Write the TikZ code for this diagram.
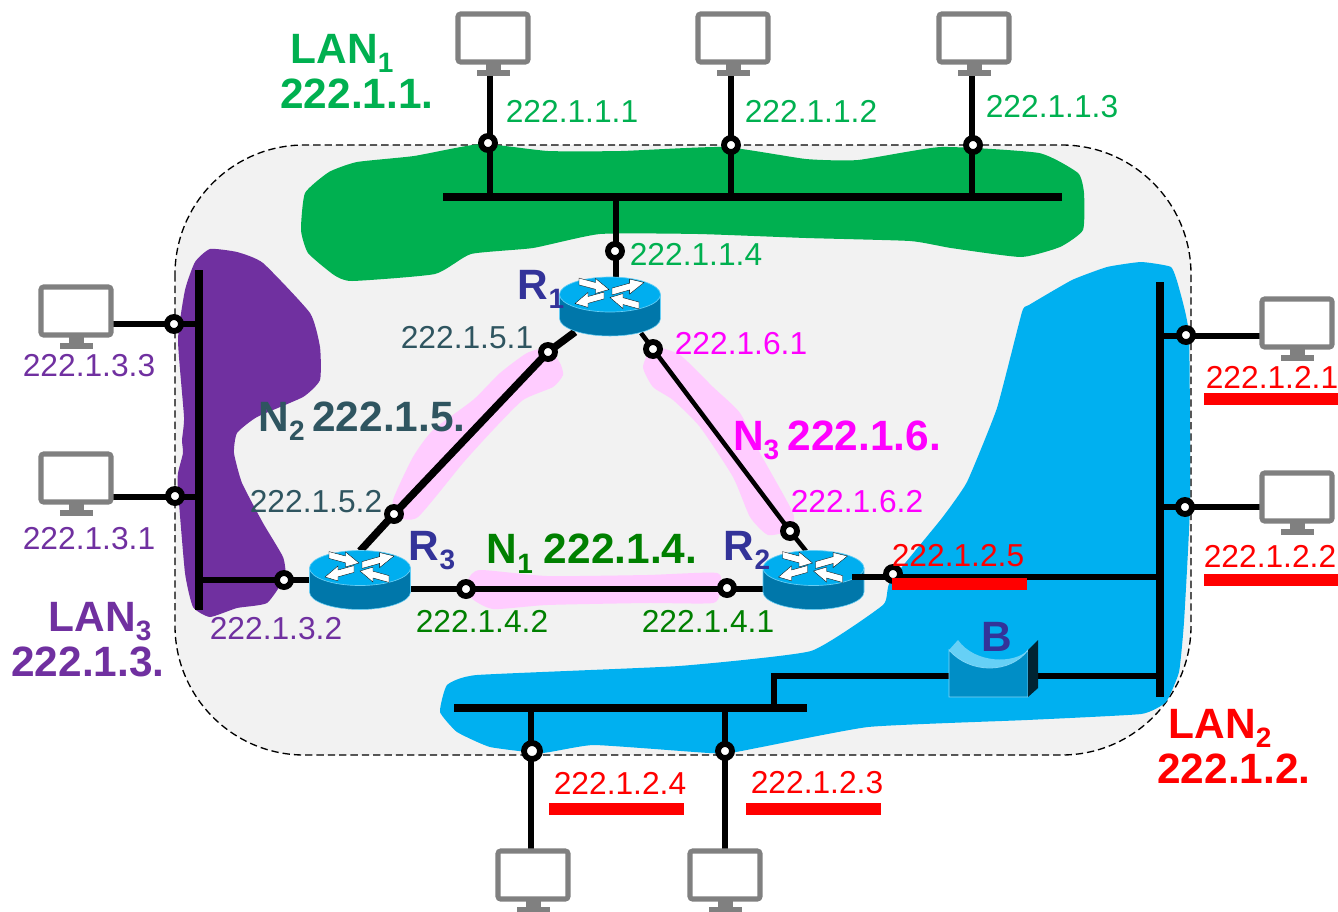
\documentclass[tikz,border=0pt]{standalone}
\usepackage{fontspec}
\setmainfont{Liberation Sans}
\definecolor{lgreen}{HTML}{00B050}
\definecolor{dgreen}{HTML}{008000}
\definecolor{lpurple}{HTML}{7030A0}
\definecolor{slate}{HTML}{2F5560}
\definecolor{lblue}{HTML}{00B0F0}
\definecolor{rblue}{HTML}{333399}
\definecolor{pinkb}{HTML}{FFCCFF}
\definecolor{mag}{HTML}{FF00FF}
\definecolor{mon}{HTML}{808080}
\definecolor{cloudf}{HTML}{F2F2F2}
\definecolor{rtop}{HTML}{00AEEF}
\definecolor{rside}{HTML}{0077AA}
\newcommand\lsub[1]{\smash{\raisebox{-0.22em}{\fontsize{21}{21}\selectfont #1}}}
\pgfdeclarelayer{blobs}\pgfdeclarelayer{wires}
\pgfsetlayers{blobs,wires,main}
\tikzset{
 addr/.style={font=\fontsize{23.8}{26}\selectfont,inner sep=0pt},
 big/.style={font=\fontsize{31.8}{34}\selectfont\bfseries,inner sep=0pt},
 port/.style={circle,draw=black,fill=white,line width=4.4pt,minimum size=10.5pt,inner sep=0pt},
 bus/.style={line width=6pt},
 wire/.style={line width=4.1pt},
 under/.style={red,line width=8.5pt},
 pics/computer/.style={code={
   \draw[mon,line width=3.8pt,rounded corners=2pt,fill=white] (2,2) rectangle (72,50);
   \fill[mon] (30,51) rectangle (45,59);
   \fill[mon] (21,58) rectangle (54,64);
 }},
 pics/router/.style={code={
   \draw[rtop!60!white,line width=.4pt,fill=rside] (-50.5,0) -- (-50.5,24) .. controls (-50.5,33.5) and (-28,41.5) .. (0,41.5) .. controls (28,41.5) and (50.5,33.5) .. (50.5,24) -- (50.5,0) -- cycle;
   \draw[rtop!60!white,line width=.5pt,fill=rtop] (-50.5,0) .. controls (-50.5,-9.5) and (-28,-17.5) .. (0,-17.5) .. controls (28,-17.5) and (50.5,-9.5) .. (50.5,0) .. controls (50.5,9.5) and (28,17.5) .. (0,17.5) .. controls (-28,17.5) and (-50.5,9.5) .. (-50.5,0) -- cycle;
   \foreach \tx/\ty/\hx/\hy in {-31/-13/-1/-5, 2/-3/34/-12, -6/1/-35/9, 29/11/0/3}{
     \pgfmathsetmacro\mx{\tx+.55*(\hx-\tx)}
     \pgfmathsetmacro\my{\ty+.55*(\hy-\ty)}
     \fill[white,draw=black,line width=.25pt] (\tx,\ty-3.4) -- (\mx,\my-3.4) -- (\mx,\my-7.5) -- (\hx,\hy) -- (\mx,\my+7.5) -- (\mx,\my+3.4) -- (\tx,\ty+3.4) -- cycle;
   }
 }}
}
\begin{document}
\begin{tikzpicture}[x=0.75pt,y=-0.75pt]
\useasboundingbox (0,0) rectangle (1338,911);
\begin{pgfonlayer}{blobs}
\draw[line width=1pt,dash pattern=on 5.5pt off 3pt,fill=cloudf,rounded corners=97pt] (175,145) rectangle (1191,755);
% green
\fill[lgreen] plot[smooth cycle,tension=.3] coordinates {(301,230)(305,193)(329,172)(357,162)(414,156)(481,144)(548,151)(621,151)(724,147)(806,159)(858,160)(941,147)(1039,153)(1078,173)(1084,193)(1083,230)(1060,247)(1021,257)(951,248)(910,241)(806,238)(698,234)(600,234)(533,248)(471,254)(435,274)(352,281)(334,275)(308,253)};
% purple
\fill[lpurple] plot[smooth cycle,tension=.3] coordinates {(210,249)(237,252)(263,263)(310,313)(320,347)(320,380)(303,397)(257,417)(237,433)(234,453)(242,483)(263,523)(283,557)(285,577)(267,603)(237,608)(210,617)(193,607)(185,573)(178,490)(178,473)(183,453)(182,440)(184,417)(178,340)(185,290)(195,262)};
% blue
\fill[lblue] plot[smooth cycle,tension=.25] coordinates {(1141,262)(1171,267)(1179,288)(1189,335)(1190,505)(1184,622)(1179,672)(1166,702)(1141,714)(1027,720)(868,727)(736,752)(709,753)(594,745)(542,753)(490,747)(457,732)(440,712)(447,685)(477,675)(679,666)(811,651)(883,605)(890,582)(942,518)(967,482)(997,408)(1022,312)(1029,305)(1072,280)(1107,267)};
% pink
\fill[pinkb] plot[smooth cycle,tension=.35] coordinates {(527,353)(548,348)(560,363)(563,375)(553,387)(523,400)(493,430)(463,463)(418,517)(397,517)(393,500)(413,457)(433,430)(473,400)(500,373)};
\fill[pinkb] plot[smooth cycle,tension=.35] coordinates {(653,347)(680,355)(713,387)(740,413)(760,453)(793,513)(790,530)(768,535)(750,517)(733,477)(700,427)(673,400)(653,387)(643,367)};
\fill[pinkb] plot[smooth cycle,tension=.35] coordinates {(480,570)(547,576)(647,575)(717,573)(720,590)(713,603)(647,603)(547,605)(493,609)(470,597)(468,580)};
\end{pgfonlayer}

% routers
\pic at (610,294.5) {router};
\pic at (360,568) {router};
\pic at (813.5,568) {router};
\coordinate (r1top) at (616,278);
\coordinate (r1sw) at (575,332);
\coordinate (r1se) at (641,333);
\coordinate (r3ne) at (360,551);
\coordinate (r3w) at (310,580);
\coordinate (r3e) at (411,589);
\coordinate (r2nw) at (806,551);
\coordinate (r2w) at (763,589);
\coordinate (r2e) at (852,577);
\coordinate (b2r) at (1160,577);

% bridge
\fill[lblue!60!white] (949,650) -- (958,640) .. controls (975,664) and (1015,664) .. (1028,650) -- (1028,652) .. controls (1010,674) and (970,674) .. (949,652) -- cycle;
\path[fill=rside!60!lblue,draw=lblue!50!white,line width=.6pt] (949,650) .. controls (970,674) and (1010,674) .. (1028,650) -- (1028,697) -- (949,697) -- cycle;
\fill[black!70!rside] (1028,650) -- (1038,640) -- (1038,688) -- (1028,697) -- cycle;
\coordinate (bl) at (949,676);
\coordinate (br) at (1038,676);

% monitors
\pic at (456,12) {computer};
\pic at (696,12) {computer};
\pic at (937,12) {computer};
\pic at (39,285) {computer};
\pic at (39,452) {computer};
\pic at (1260,297) {computer};
\pic at (1260,471) {computer};
\pic at (496,849) {computer};
\pic at (688,849) {computer};
\coordinate (c1) at (490,76);
\coordinate (c2) at (731,76);
\coordinate (c3) at (972,76);
\coordinate (c4) at (113,324);
\coordinate (c5) at (113,497);
\coordinate (c6) at (1260,336);
\coordinate (c7) at (1260,507);
\coordinate (c8) at (531,849);
\coordinate (c9) at (725,849);

% buses
\coordinate (b1a) at (443,197); \coordinate (b1b) at (1062,197);
\coordinate (b3a) at (199,270); \coordinate (b3b) at (199,610);
\coordinate (b2a) at (1160,282); \coordinate (b2b) at (1160,697);
\coordinate (b4a) at (454,708); \coordinate (b4b) at (807,708);

% wire over router R2, under its port
\draw[wire] (r2e) -- (b2r);

% ports
\node[port] (p1) at (488,143) {};
\node[port] (p2) at (731,145) {};
\node[port] (p3) at (973,145) {};
\node[port] (p4) at (615,251) {};
\node[port] (p5) at (174,324) {};
\node[port] (p6) at (175,496) {};
\node[port] (p7) at (284,580) {};
\node[port] (p8) at (1186,335) {};
\node[port] (p9) at (1185,507) {};
\node[port] (p10) at (893,574) {};
\node[port,minimum size=12pt] (p11) at (532,751) {};
\node[port] (p12) at (725,751) {};
\node[port] (p13) at (548,352) {};
\node[port] (p14) at (394,514) {};
\node[port] (p15) at (653,349) {};
\node[port] (p16) at (790,531) {};
\node[port] (p17) at (466,589) {};
\node[port] (p18) at (727,588) {};

\begin{pgfonlayer}{wires}
\draw[bus] (b1a) -- (b1b);
\draw[bus] (b3a) -- (b3b);
\draw[bus] (b2a) -- (b2b);
\draw[bus] (b4a) -- (b4b);
\draw[wire] (c1) -- (490,197);
\draw[wire] (c2) -- (731,197);
\draw[wire] (c3) -- (972,197);
\draw[wire] (616,197) -- (r1top);
\draw[wire] (c4) -- (199,324);
\draw[wire] (c5) -- (199,497);
\draw[wire] (199,580) -- (r3w);
\draw[wire] (c6) -- (1160,336);
\draw[wire] (c7) -- (1160,507);
\draw[wire] (br) -- (1160,676);
\draw[wire] (bl) -- (774,676) -- (774,708);
\draw[wire] (c8) -- (531,708);
\draw[wire] (c9) -- (725,708);
\draw[line width=5.6pt] (r1sw) -- (p13.center) -- (p14.center) -- (r3ne);
\draw[line width=3.4pt] (r1se) -- (p15.center) -- (p16.center) -- (r2nw);
\draw[line width=4.4pt] (r3e) -- (r2w);
\end{pgfonlayer}

% red underlines
\draw[under] (1204,399) -- (1338,399);
\draw[under] (1204,580) -- (1338,580);
\draw[under] (892,584) -- (1027,584);
\draw[under] (549,809) -- (684,809);
\draw[under] (746,809) -- (881,809);

% address labels
\node[addr,text=lgreen] (t1) at (572,111) {222.1.1.1};
\node[addr,text=lgreen] (t2) at (811,111) {222.1.1.2};
\node[addr,text=lgreen] (t3) at (1052,107) {222.1.1.3};
\node[addr,text=lgreen] (t4) at (696,254) {222.1.1.4};
\node[addr,text=slate] (t5) at (467,338) {222.1.5.1};
\node[addr,text=slate] (t6) at (316,502) {222.1.5.2};
\node[addr,text=mag] (t7) at (741,344) {222.1.6.1};
\node[addr,text=mag] (t8) at (857,502) {222.1.6.2};
\node[addr,text=dgreen] (t9) at (482,621) {222.1.4.2};
\node[addr,text=dgreen] (t10) at (708,621) {222.1.4.1};
\node[addr,text=lpurple] (t11) at (89,366) {222.1.3.3};
\node[addr,text=lpurple] (t12) at (89,539) {222.1.3.1};
\node[addr,text=lpurple] (t13) at (276,629) {222.1.3.2};
\node[addr,text=red] (t14) at (1272,377) {222.1.2.1};
\node[addr,text=red] (t15) at (1270,556) {222.1.2.2};
\node[addr,text=red] (t16) at (958,556) {222.1.2.5};
\node[addr,text=red] (t17) at (620,783) {222.1.2.4};
\node[addr,text=red] (t18) at (817,783) {222.1.2.3};

% big labels
\node[big,text=lgreen] (l1) at (342,49) {LAN\lsub{1}};
\node[big,text=lgreen] (l2) at (357,94) {222.1.1.};
\node[big,text=lpurple] (l3) at (100,617) {LAN\lsub{3}};
\node[big,text=lpurple] (l4) at (88,662) {222.1.3.};
\node[big,text=red] (l5) at (1220,724) {LAN\lsub{2}};
\node[big,text=red] (l6) at (1234,769) {222.1.2.};
\node[big,text=rblue] (r1t) at (541,285) {R\lsub{1}};
\node[big,text=rblue] (r3t) at (432,546) {R\lsub{3}};
\node[big,text=rblue] (r2t) at (747,546) {R\lsub{2}};
\node[big,text=rblue] (bt) at (997,637) {B};
\node[big,text=slate] (n2) at (362,417) {N\lsub{2}\hspace{.18em}222.1.5.};
\node[big,text=mag] (n3) at (837,436) {N\lsub{3}\hspace{.2em}222.1.6.};
\node[big,text=dgreen] (n1) at (592,549) {N\lsub{1}\hspace{.26em}222.1.4.};
\end{tikzpicture}
\end{document}
